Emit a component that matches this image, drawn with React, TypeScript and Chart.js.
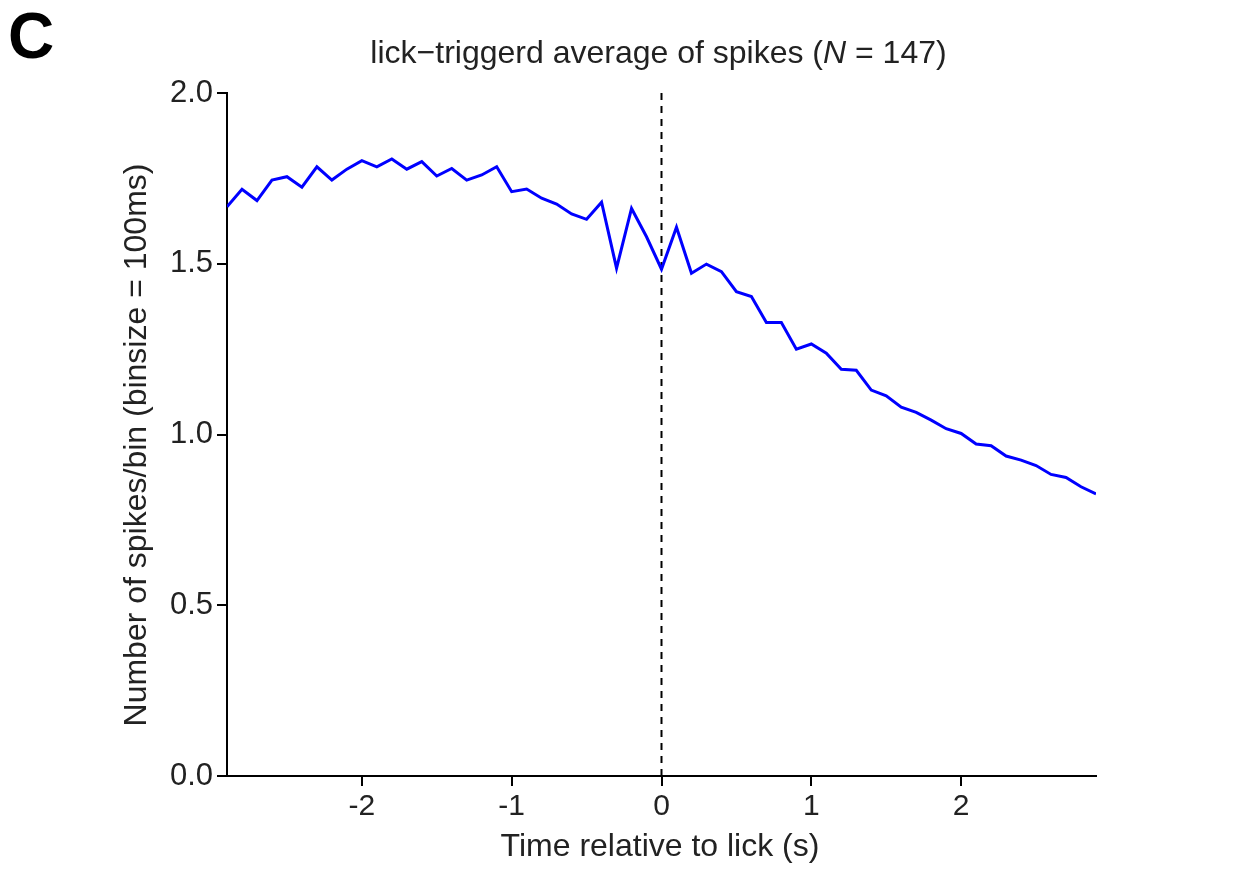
import React, { useEffect, useRef } from "react";
import { Chart, registerables } from "chart.js";

Chart.register(...registerables);

const times: number[] = [
  -2.9, -2.8, -2.7, -2.6, -2.5, -2.4, -2.3, -2.2, -2.1, -2.0,
  -1.9, -1.8, -1.7, -1.6, -1.5, -1.4, -1.3, -1.2, -1.1, -1.0,
  -0.9, -0.8, -0.7, -0.6, -0.5, -0.4, -0.3, -0.2, -0.1, 0.0,
  0.1, 0.2, 0.3, 0.4, 0.5, 0.6, 0.7, 0.8, 0.9, 1.0,
  1.1, 1.2, 1.3, 1.4, 1.5, 1.6, 1.7, 1.8, 1.9, 2.0,
  2.1, 2.2, 2.3, 2.4, 2.5, 2.6, 2.7, 2.8, 2.9,
];

const spikes: number[] = [
  1.667, 1.718, 1.685, 1.745, 1.755, 1.724, 1.784, 1.745, 1.777, 1.802,
  1.784, 1.807, 1.777, 1.799, 1.757, 1.779, 1.745, 1.760, 1.784, 1.711,
  1.719, 1.692, 1.675, 1.646, 1.630, 1.680, 1.487, 1.662, 1.579, 1.484,
  1.607, 1.472, 1.499, 1.477, 1.418, 1.404, 1.328, 1.328, 1.250, 1.265,
  1.238, 1.191, 1.188, 1.130, 1.113, 1.080, 1.065, 1.042, 1.017, 1.003,
  0.972, 0.967, 0.937, 0.925, 0.909, 0.883, 0.874, 0.847, 0.826,
];

const xTicks: number[] = [-2, -1, 0, 1, 2];
const yTicks: number[] = [0, 0.5, 1.0, 1.5, 2.0];

const titleMain = "lick\u2212triggerd average of spikes (";
const titleItalic = "N";
const titleEnd = " = 147)";
const xLabel = "Time relative to lick (s)";
const yLabel = "Number of spikes/bin (binsize = 100ms)";
const panelLabel = "C";

const FONT = "'Liberation Sans', Arial, Helvetica, sans-serif";

const textPlugin = {
  id: "texts",
  afterDraw(chart: any) {
    const ctx = chart.ctx;
    ctx.save();
    ctx.fillStyle = "#000";
    ctx.font = `bold 64px ${FONT}`;
    ctx.textAlign = "left";
    ctx.textBaseline = "alphabetic";
    ctx.fillText(panelLabel, 8, 58);
    ctx.fillStyle = "#222";
    const normal = `32px ${FONT}`;
    const italic = `italic 32px ${FONT}`;
    ctx.font = normal;
    const w1 = ctx.measureText(titleMain).width;
    const w3 = ctx.measureText(titleEnd).width;
    ctx.font = italic;
    const w2 = ctx.measureText(titleItalic).width;
    const total = w1 + w2 + w3;
    const cx = 658.5;
    let x = cx - total / 2;
    const ty = 63;
    ctx.font = normal;
    ctx.fillText(titleMain, x, ty);
    x += w1;
    ctx.font = italic;
    ctx.fillText(titleItalic, x, ty);
    x += w2;
    ctx.font = normal;
    ctx.fillText(titleEnd, x, ty);
    ctx.textAlign = "center";
    ctx.font = `32px ${FONT}`;
    ctx.fillText(xLabel, 660, 856);
    ctx.translate(146, 445);
    ctx.rotate(-Math.PI / 2);
    ctx.fillText(yLabel, 0, 0);
    ctx.restore();
  },
};

export default function App() {
  const ref = useRef<HTMLCanvasElement | null>(null);
  useEffect(() => {
    if (!ref.current) return;
    const chart = new Chart(ref.current, {
      type: "line",
      data: {
        datasets: [
          {
            data: times.map((t, i) => ({ x: t, y: spikes[i] })),
            borderColor: "#0000ff",
            borderWidth: 3,
            pointRadius: 0,
            tension: 0,
            fill: false,
          },
          {
            data: [
              { x: 0, y: 0 },
              { x: 0, y: 2 },
            ],
            borderColor: "#000",
            borderWidth: 2,
            borderDash: [7, 6],
            pointRadius: 0,
            fill: false,
          },
        ],
      },
      options: {
        animation: false,
        responsive: false,
        devicePixelRatio: 1,
        layout: { padding: { left: 0, right: 139, top: 93, bottom: 0 } },
        plugins: {
          legend: { display: false },
          tooltip: { enabled: false },
          title: { display: false },
        },
        scales: {
          x: {
            type: "linear",
            min: -2.9,
            max: 2.9,
            afterBuildTicks(scale: any) {
              scale.ticks = xTicks.map((v) => ({ value: v }));
            },
            afterFit(scale: any) {
              scale.height = 97;
            },
            ticks: {
              color: "#222",
              font: { family: FONT, size: 30 },
              padding: 3,
              maxRotation: 0,
              callback: (v: any) => String(v),
            },
            grid: {
              drawOnChartArea: false,
              drawTicks: true,
              tickLength: 10,
              color: "#000",
              lineWidth: 2,
            },
            border: { display: true, color: "#000", width: 2 },
          },
          y: {
            type: "linear",
            min: 0,
            max: 2,
            afterBuildTicks(scale: any) {
              scale.ticks = yTicks.map((v) => ({ value: v }));
            },
            afterFit(scale: any) {
              scale.width = 227;
            },
            ticks: {
              color: "#222",
              font: { family: FONT, size: 31 },
              padding: 4,
              callback: (v: any) => Number(v).toFixed(1),
            },
            grid: {
              drawOnChartArea: false,
              drawTicks: true,
              tickLength: 10,
              color: "#000",
              lineWidth: 2,
            },
            border: { display: true, color: "#000", width: 2 },
          },
        },
      },
      plugins: [textPlugin],
    } as any);
    return () => chart.destroy();
  }, []);
  return (
    <div style={{ position: "fixed", left: 0, top: 0, width: 1235, height: 873, background: "#fff" }}>
      <canvas ref={ref} width={1235} height={873} style={{ width: 1235, height: 873 }} />
    </div>
  );
}
